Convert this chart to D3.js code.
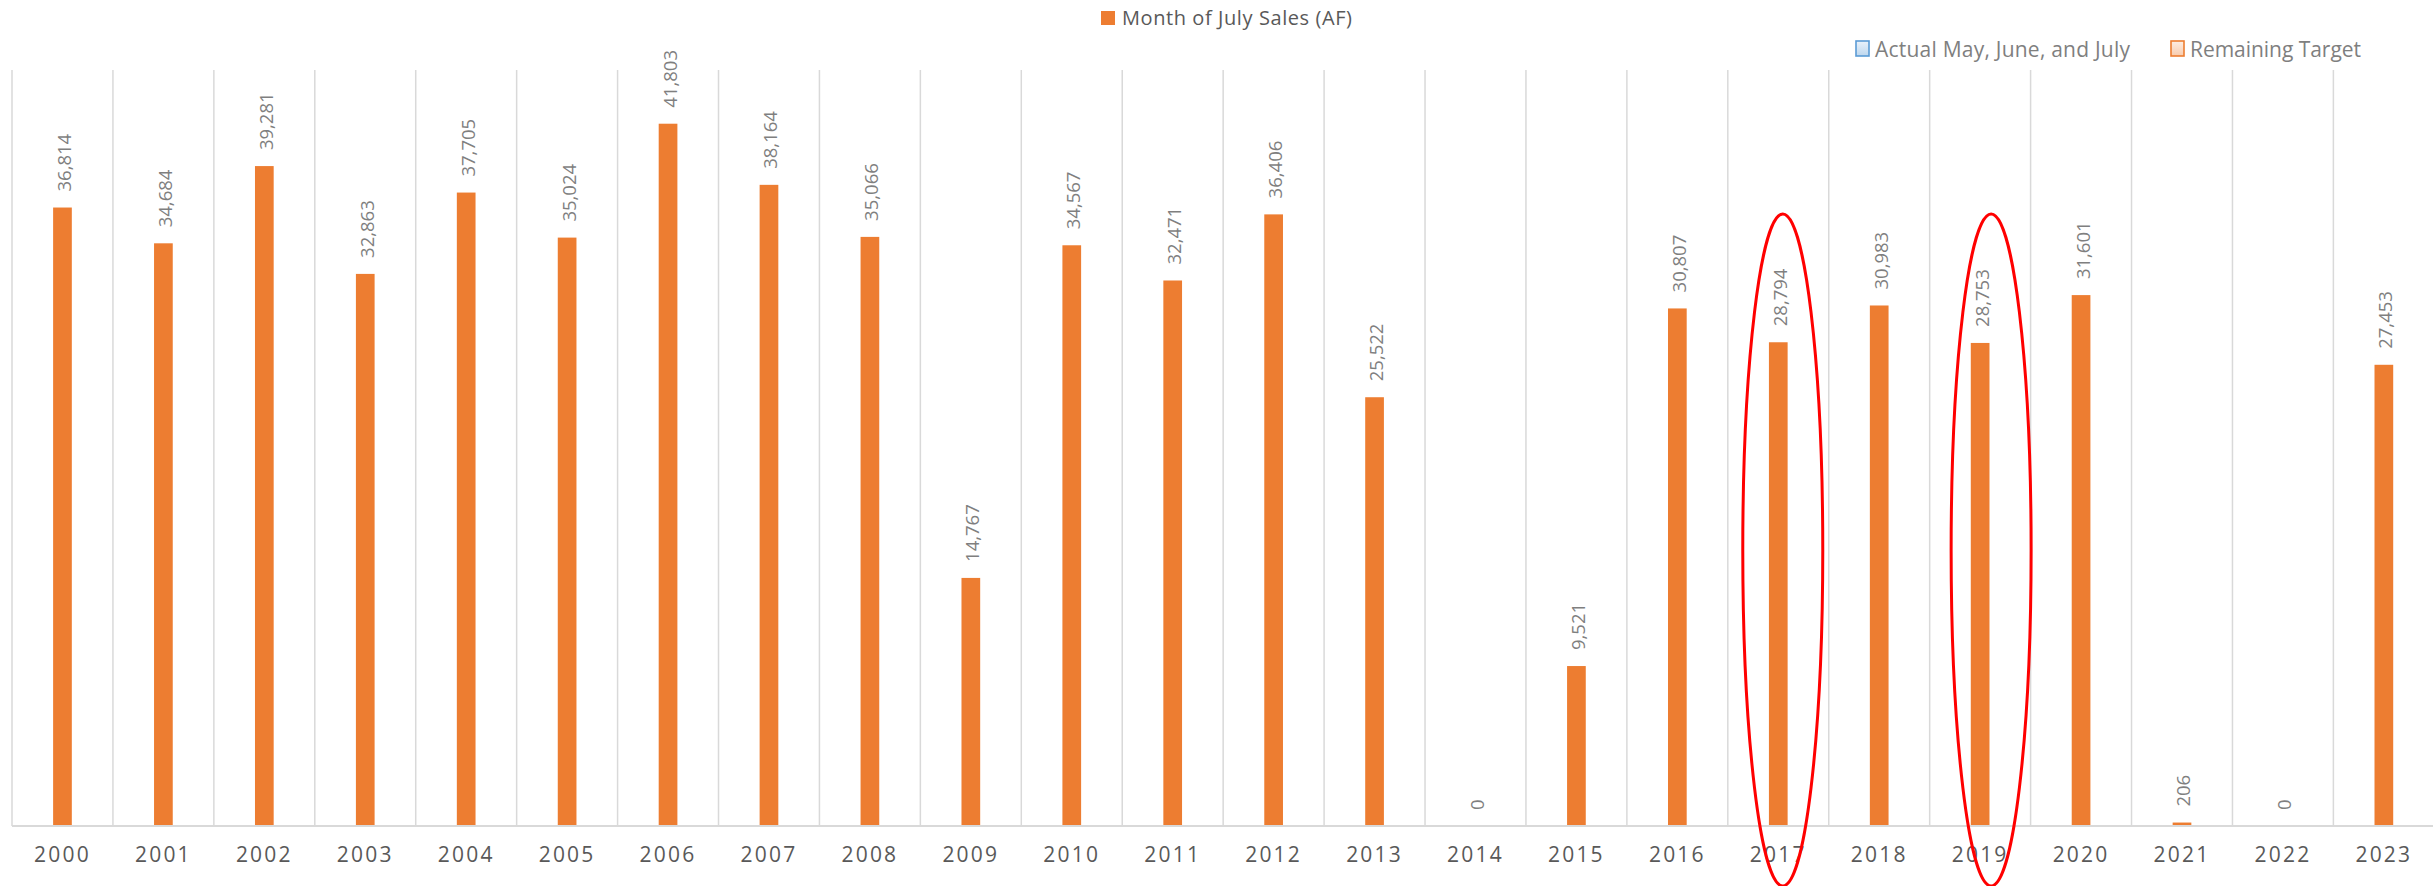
<!DOCTYPE html>
<html>
<head>
<meta charset="utf-8">
<script src="https://cdn.jsdelivr.net/npm/d3@7/dist/d3.min.js"></script>
<style>
  html, body { margin: 0; padding: 0; background: #fff; }
  svg { display: block; }
  text { font-family: "Open Sans", "Noto Sans", sans-serif; }
</style>
</head>
<body>
<div id="chart"></div>
<script>
// ---- Data ----
const years = ["2000","2001","2002","2003","2004","2005","2006","2007","2008","2009","2010","2011",
               "2012","2013","2014","2015","2016","2017","2018","2019","2020","2021","2022","2023"];
const julySales = [36814, 34684, 39281, 32863, 37705, 35024, 41803, 38164, 35066, 14767, 34567, 32471,
                   36406, 25522, 0, 9521, 30807, 28794, 30983, 28753, 31601, 206, 0, 27453];
const seriesName = "Month of July Sales (AF)";
const extraLegend = ["Actual May, June, and July", "Remaining Target"];
const highlighted = ["2017", "2019"];

// ---- Layout ----
const W = 2433, H = 886;
const plotLeft = 12, step = 100.93, plotTop = 70, baseY = 826;
const svg = d3.select("#chart").append("svg").attr("width", W).attr("height", H);

const x = d3.scaleBand().domain(years).range([plotLeft, plotLeft + step * years.length]).padding(0);
const y = d3.scaleLinear().domain([0, 45000]).range([baseY, plotTop]);
const barW = 18.7;
const fmt = d3.format(",");

// vertical gridlines at category boundaries
const bounds = years.map(d => x(d)).concat([x.range()[1]]);
svg.append("g").selectAll("line").data(bounds).join("line")
  .attr("x1", d => d).attr("x2", d => d)
  .attr("y1", plotTop).attr("y2", baseY)
  .attr("stroke", "#d9d9d9").attr("stroke-width", 1.5);

// bars
svg.append("g").selectAll("rect").data(years).join("rect")
  .attr("x", (d) => x(d) + x.bandwidth() / 2 - barW / 2)
  .attr("width", barW)
  .attr("y", (d, i) => y(julySales[i]))
  .attr("height", (d, i) => baseY - y(julySales[i]))
  .attr("fill", "#ed7d31");

// baseline axis
const xAxis = d3.axisBottom(x).tickSize(0).tickPadding(0);
const gx = svg.append("g").attr("transform", `translate(0,${baseY})`).call(xAxis);
gx.select(".domain").attr("stroke", "#d9d9d9").attr("stroke-width", 2)
  .attr("d", `M${plotLeft},0H${W + 10}`);
gx.selectAll(".tick text")
  .attr("y", 36).attr("dy", 0)
  .attr("fill", "#595959")
  .style("font-size", "21px")
  .style("letter-spacing", "2.2px")
  .style("font-family", "\"Open Sans\", sans-serif");

// data labels (rotated)
svg.append("g").selectAll("text").data(years).join("text")
  .attr("transform", (d, i) => `translate(${x(d) + x.bandwidth() / 2 + 1},${y(julySales[i]) - 16}) rotate(-90)`)
  .attr("text-anchor", "start")
  .attr("dominant-baseline", "central")
  .attr("fill", "#7f7f7f")
  .style("font-size", "18.5px")
  .text((d, i) => fmt(julySales[i]));

// top legend
const lg = svg.append("g");
lg.append("rect").attr("x", 1101).attr("y", 11).attr("width", 14).attr("height", 14).attr("fill", "#ed7d31");
lg.append("text").attr("x", 1122).attr("y", 25).attr("fill", "#595959")
  .style("font-size", "20px").attr("textLength", 230).text(seriesName);

// secondary legend
const defs = svg.append("defs");
const gb = defs.append("linearGradient").attr("id", "gBlue").attr("x1", 0).attr("y1", 0).attr("x2", 0).attr("y2", 1);
gb.append("stop").attr("offset", "0%").attr("stop-color", "#eaf2fb");
gb.append("stop").attr("offset", "100%").attr("stop-color", "#bdd7ee");
const go = defs.append("linearGradient").attr("id", "gOrange").attr("x1", 0).attr("y1", 0).attr("x2", 0).attr("y2", 1);
go.append("stop").attr("offset", "0%").attr("stop-color", "#fdeee4");
go.append("stop").attr("offset", "100%").attr("stop-color", "#f8cbad");

const lg2 = svg.append("g");
lg2.append("rect").attr("x", 1856).attr("y", 41).attr("width", 13).attr("height", 15)
  .attr("fill", "url(#gBlue)").attr("stroke", "#5b9bd5").attr("stroke-width", 1.6);
lg2.append("text").attr("x", 1875).attr("y", 57).attr("fill", "#7f7f7f")
  .style("font-size", "21px").attr("textLength", 255).text(extraLegend[0]);
lg2.append("rect").attr("x", 2171).attr("y", 41).attr("width", 13).attr("height", 15)
  .attr("fill", "url(#gOrange)").attr("stroke", "#ed7d31").attr("stroke-width", 1.6);
lg2.append("text").attr("x", 2190).attr("y", 57).attr("fill", "#7f7f7f")
  .style("font-size", "21px").attr("textLength", 171).text(extraLegend[1]);

// red annotation ellipses
const ellOffset = { "2017": 4.5, "2019": 11 };
svg.append("g").selectAll("ellipse").data(highlighted).join("ellipse")
  .attr("cx", d => x(d) + x.bandwidth() / 2 + ellOffset[d])
  .attr("cy", 550)
  .attr("rx", 40)
  .attr("ry", 336)
  .attr("fill", "none")
  .attr("stroke", "#ff0000")
  .attr("stroke-width", 3);
</script>
</body>
</html>
